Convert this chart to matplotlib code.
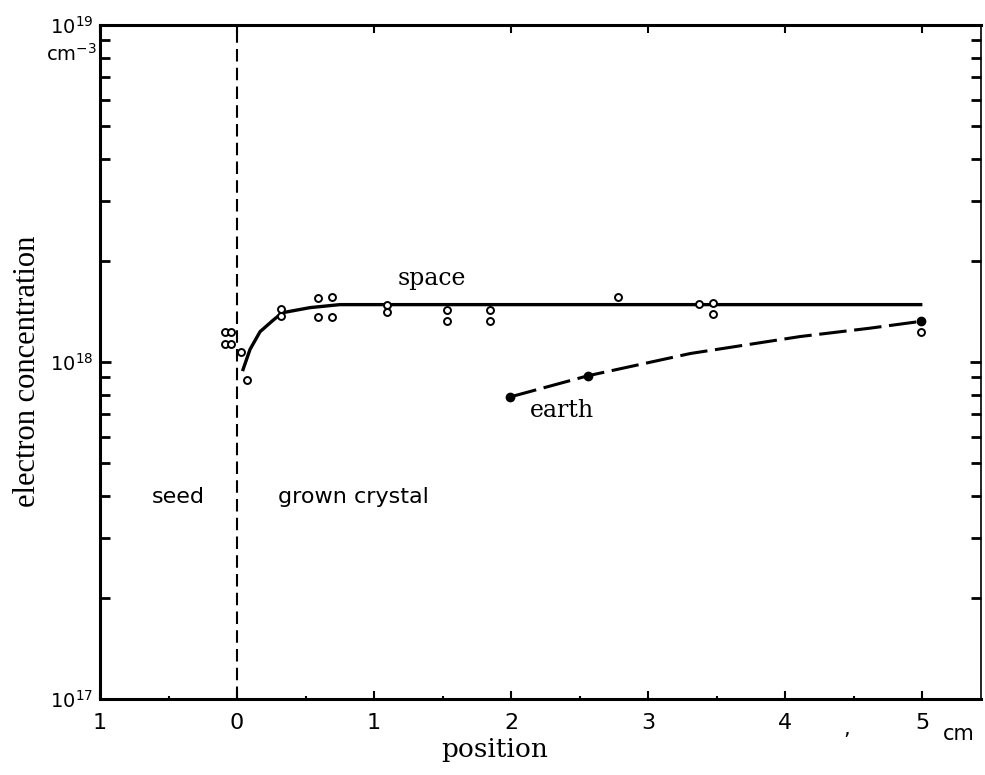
#!/usr/bin/env python
"""Electron concentration along the crystal, space vs earth grown."""
import matplotlib
matplotlib.use('Agg')
import matplotlib.pyplot as plt
from matplotlib.ticker import FixedLocator, LogLocator, NullFormatter

# solid curve: space grown crystal
space_x = [0.044, 0.095, 0.168, 0.263, 0.33, 0.533, 0.75, 4.99]
space_y = [9.5e17, 1.09e18, 1.23e18, 1.33e18, 1.40e18, 1.45e18, 1.48e18, 1.48e18]

# open circles: measured points of the space sample
meas_x = [-0.088, -0.044, -0.088, -0.044, 0.029, 0.073, 0.321, 0.321,
          0.591, 0.693, 0.591, 0.693, 1.095, 1.095, 1.533, 1.533,
          1.847, 1.847, 2.781, 3.372, 3.474, 3.474, 4.99]
meas_y = [1.23e18, 1.23e18, 1.13e18, 1.13e18, 1.07e18, 8.85e17, 1.44e18, 1.37e18,
          1.55e18, 1.56e18, 1.36e18, 1.36e18, 1.48e18, 1.41e18, 1.43e18, 1.32e18,
          1.43e18, 1.32e18, 1.56e18, 1.49e18, 1.50e18, 1.39e18, 1.23e18]

# dashed curve: earth grown crystal
earth_x = [1.99, 2.56, 3.31, 4.11, 4.62, 4.99]
earth_y = [7.87e17, 9.1e17, 1.06e18, 1.19e18, 1.26e18, 1.32e18]
earth_dot_x = [1.99, 2.56, 4.99]
earth_dot_y = [7.87e17, 9.1e17, 1.32e18]

x_ticks = [-1, 0, 1, 2, 3, 4, 5]
x_labels = ['1', '0', '1', '2', '3', '4', '5']
x_minor = [-0.5, 0.5, 1.5, 2.5, 3.5, 4.5]


def main():
    """Draw the figure and save it."""
    fig = plt.figure(figsize=(9.85, 7.75), dpi=100)
    ax = fig.add_axes([100 / 985, 1 - 699 / 775, 881 / 985, 674 / 775])

    ax.set_yscale('log')
    ax.set_xlim(-1, 5.43)
    ax.set_ylim(1e17, 1e19)

    # seed / grown crystal boundary
    ax.axvline(0, color='black', lw=1.5, dashes=(6, 3), zorder=1)

    ax.plot(space_x, space_y, color='black', lw=2.4, zorder=2)
    ax.plot(earth_x, earth_y, color='black', lw=2.2, dashes=(9, 2.5), zorder=2)
    ax.plot(earth_dot_x, earth_dot_y, 'o', color='black', ms=6, zorder=3)
    ax.plot(meas_x, meas_y, 'o', mfc='white', mec='black', mew=1.4, ms=5, zorder=4)

    ax.text(1.17, 1.69e18, 'space', family='DejaVu Serif', fontsize=17)
    ax.text(2.14, 6.87e17, 'earth', family='DejaVu Serif', fontsize=17)
    ax.text(-0.62, 3.82e17, 'seed', family='DejaVu Sans', fontsize=16)
    ax.text(0.30, 3.82e17, 'grown crystal', family='DejaVu Sans', fontsize=16)

    ax.xaxis.set_major_locator(FixedLocator(x_ticks))
    ax.xaxis.set_minor_locator(FixedLocator(x_minor))
    ax.set_xticklabels(x_labels)
    ax.yaxis.set_major_locator(FixedLocator([1e17, 1e18, 1e19]))
    ax.yaxis.set_minor_locator(LogLocator(base=10, subs=range(2, 10)))
    ax.yaxis.set_minor_formatter(NullFormatter())
    ax.set_yticklabels(['$10^{17}$', '$10^{18}$', '$10^{19}$'])

    ax.tick_params(axis='x', which='major', direction='in', length=6, width=1.5,
                   top=True, labelsize=16, pad=10)
    ax.tick_params(axis='x', which='minor', direction='in', length=2, width=1.5,
                   top=False)
    ax.tick_params(axis='y', which='major', direction='in', length=8, width=2,
                   right=True, labelsize=14, pad=5)
    ax.tick_params(axis='y', which='minor', direction='in', length=7, width=2,
                   right=True)

    for side in ['left', 'bottom', 'top']:
        ax.spines[side].set_linewidth(2.2)
    ax.spines['right'].set_linewidth(1.2)

    fig.text(28 / 985, 1 - 371 / 775, 'electron concentration', rotation=90,
             ha='center', va='center', family='Liberation Serif', fontsize=22)
    fig.text(495 / 985, 1 - 757 / 775, 'position', ha='center', va='baseline',
             family='DejaVu Serif', fontsize=19)
    fig.text(97 / 985, 1 - 54 / 775, 'cm$^{-3}$', ha='right', va='center',
             fontsize=14)
    fig.text(943 / 985, 1 - 740 / 775, 'cm', va='baseline', fontsize=15)
    fig.text(843 / 985, 1 - 735 / 775, ',', va='baseline', fontsize=15)

    fig.savefig('out.png', dpi=100)


if __name__ == "__main__":
    main()
